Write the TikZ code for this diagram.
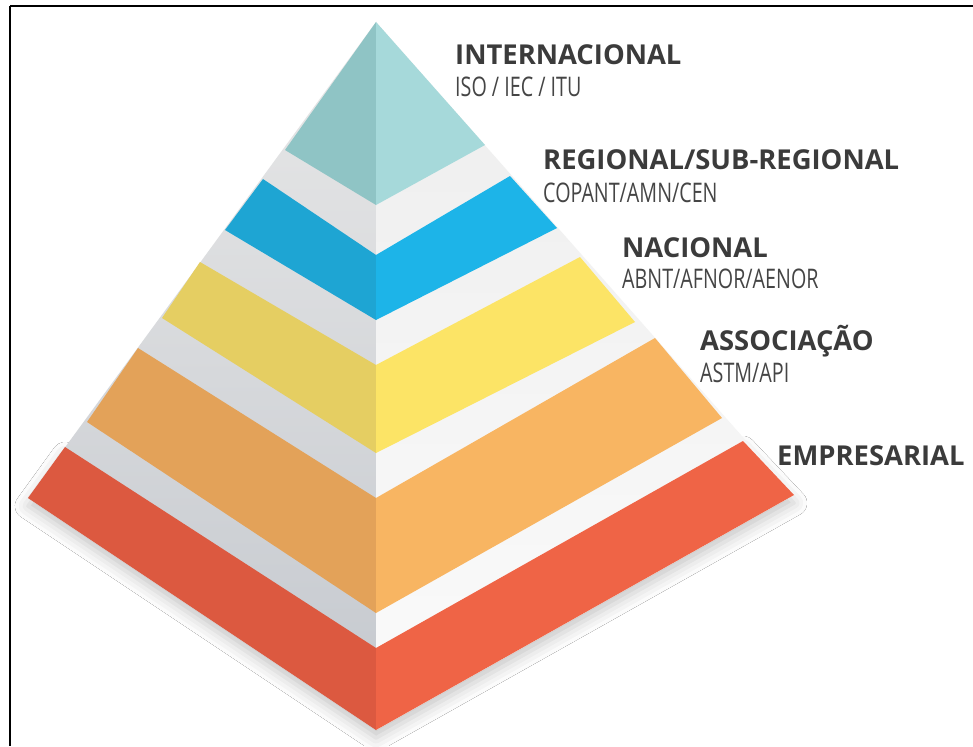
\documentclass[tikz,border=0pt]{standalone}
\usepackage{fontspec}
\setmainfont{Open Sans}
\newfontfamily\condfont{Open Sans}[FakeStretch=0.73]
\usetikzlibrary{shadows.blur}

% face colours: L = left (shaded) face, R = right (lit) face
\definecolor{tealL}{HTML}{8FC4C5}
\definecolor{tealR}{HTML}{A6D9DA}
\definecolor{blueL}{HTML}{1EA5D3}
\definecolor{blueR}{HTML}{1DB4E8}
\definecolor{yellowL}{HTML}{E5CE62}
\definecolor{yellowR}{HTML}{FCE466}
\definecolor{orangeL}{HTML}{E3A259}
\definecolor{orangeR}{HTML}{F8B562}
\definecolor{redL}{HTML}{DC5940}
\definecolor{redR}{HTML}{EF6446}
\definecolor{txtdark}{HTML}{3B3B3B}
\definecolor{txtsub}{HTML}{454545}

\tikzset{
  leveltitle/.style={anchor=base west, inner sep=0pt, text=txtdark,
                     font=\fontsize{27.4}{27.4}\selectfont\bfseries},
  levelsub/.style={anchor=base west, inner sep=0pt, text=txtsub,
                   font=\fontsize{27}{27}\selectfont\condfont},
  framerule/.style={line width=2.5pt, black},
}

% one layer of the pyramid: left face and right face
% #1 colour stem, #2..#4 top left/centre/right, #5..#7 bottom left/centre/right
\newcommand{\pyrband}[7]{%
  \fill[#1L] (#2) -- (#3) -- (#6) -- (#5) -- cycle;
  \fill[#1R] (#3) -- (#4) -- (#7) -- (#6) -- cycle;
}

\begin{document}
\begin{tikzpicture}[x=1pt,y=-1pt]
  \useasboundingbox (0,0) rectangle (973,746);
  \fill[white] (0,0) rectangle (973,746);

  % pyramid corners
  \coordinate (apex) at (376,22);
  \coordinate (baseL) at (28,498);
  \coordinate (baseC) at (376,730);
  \coordinate (baseR) at (794,495);

  % layer corners (left edge, centre edge, right edge)
  \coordinate (t1L) at (285,150); \coordinate (t1C) at (376,205); \coordinate (t1R) at (485,145);
  \coordinate (b2tL) at (263,179); \coordinate (b2tC) at (376,255); \coordinate (b2tR) at (510,176);
  \coordinate (b2bL) at (225,230); \coordinate (b2bC) at (376,320); \coordinate (b2bR) at (557,228);
  \coordinate (y3tL) at (200,262); \coordinate (y3tC) at (376,365); \coordinate (y3tR) at (580,257);
  \coordinate (y3bL) at (162,318); \coordinate (y3bC) at (376,453); \coordinate (y3bR) at (635,322);
  \coordinate (o4tL) at (138,348); \coordinate (o4tC) at (376,498); \coordinate (o4tR) at (655,338);
  \coordinate (o4bL) at (87,422);  \coordinate (o4bC) at (376,613); \coordinate (o4bR) at (722,418);
  \coordinate (r5tL) at (65,447);  \coordinate (r5tC) at (376,648); \coordinate (r5tR) at (743,441);

  % soft shadow under the base layer
  \fill[white, blur shadow={shadow xshift=0pt, shadow yshift=-8pt,
        shadow blur radius=13pt, shadow opacity=22}]
    (r5tL) -- (r5tC) -- (r5tR) -- (baseR) -- (baseC) -- (baseL) -- cycle;

  % pyramid body: the gaps between layers show these faces
  \shade[top color=gray!18, bottom color={rgb,255:red,196;green,200;blue,206}]
    (apex) -- (baseC) -- (baseL) -- cycle;
  \shade[top color=gray!14, bottom color=gray!3]
    (apex) -- (baseR) -- (baseC) -- cycle;

  % coloured layers, top to bottom
  \pyrband{teal}{apex}{apex}{apex}{t1L}{t1C}{t1R}
  \pyrband{blue}{b2tL}{b2tC}{b2tR}{b2bL}{b2bC}{b2bR}
  \pyrband{yellow}{y3tL}{y3tC}{y3tR}{y3bL}{y3bC}{y3bR}
  \pyrband{orange}{o4tL}{o4tC}{o4tR}{o4bL}{o4bC}{o4bR}
  \pyrband{red}{r5tL}{r5tC}{r5tR}{baseL}{baseC}{baseR}

  % level labels
  \node[leveltitle] (intl)   at (455,65)  {INTERNACIONAL};
  \node[levelsub]   (intlS)  at (455,97)  {ISO / IEC / ITU};
  \node[leveltitle] (regl)   at (543,170) {REGIONAL/SUB-REGIONAL};
  \node[levelsub]   (reglS)  at (543,202) {COPANT/AMN/CEN};
  \node[leveltitle] (natl)   at (622,257) {NACIONAL};
  \node[levelsub]   (natlS)  at (622,288) {ABNT/AFNOR/AENOR};
  \node[leveltitle] (assoc)  at (700,350) {ASSOCIAÇÃO};
  \node[levelsub]   (assocS) at (700,382) {ASTM/API};
  \node[leveltitle] (corp)   at (777,465) {EMPRESARIAL};

  % frame lines along the top and left
  \draw[framerule] (10,6) -- (973,6);
  \draw[framerule] (10,6) -- (10,746);
\end{tikzpicture}
\end{document}
